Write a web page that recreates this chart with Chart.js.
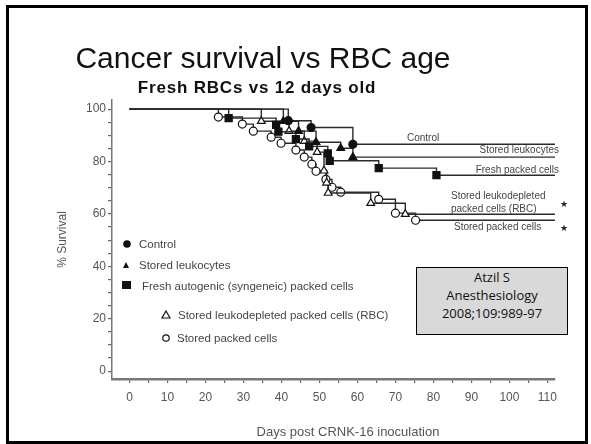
<!DOCTYPE html>
<html>
<head>
<meta charset="utf-8">
<script src="https://cdn.jsdelivr.net/npm/chart.js@4/dist/chart.umd.min.js"></script>
<style>
  body { margin: 0; background: #fff; }
  #slide { position: relative; width: 591px; height: 444px; overflow: hidden; background: #fff; }
  #frame { position: absolute; left: 6px; top: 5px; width: 576px; height: 433px; border: 3px solid #000; }
  #title { position: absolute; left: 0; width: 526px; top: 41px; text-align: center;
           font: 30px "Liberation Sans", Arial, sans-serif; color: #111; }
  #subtitle { position: absolute; left: 0; width: 514px; top: 78px; text-align: center;
              font: bold 17px "Liberation Sans", Arial, sans-serif; letter-spacing: 0.8px; color: #111; }
  #cite { position: absolute; left: 416px; top: 267px; width: 150px; height: 66px;
          background: #d9d9d9; border: 1px solid #000; text-align: center;
          font: 13px "Open Sans", sans-serif; line-height: 18px; color: #111; }
  canvas { position: absolute; left: 0; top: 0; }
</style>
</head>
<body>
<div id="slide">
  <canvas id="chart" width="591" height="444"></canvas>
  <div id="frame"></div>
  <div id="title">Cancer survival vs RBC age</div>
  <div id="subtitle">Fresh RBCs vs 12 days old</div>
  <div id="cite">Atzil S<br>Anesthesiology<br>2008;109:989-97</div>
</div>
<script>
// Kaplan-Meier curves (day, % survival)
const controlDays = [0, 41.8, 47.8, 58.8, 112];
const controlSurv = [100, 95.6, 93.0, 86.6, 86.6];

const leukoDays = [0, 40.5, 44.5, 49.1, 55.6, 58.8, 112];
const leukoSurv = [100, 95.4, 91.6, 87.4, 85.1, 81.7, 81.7];

const freshDays = [0, 26.1, 38.6, 39.2, 43.8, 47.3, 52.2, 52.7, 65.6, 80.8, 112];
const freshSurv = [100, 96.6, 94.0, 91.4, 88.6, 85.8, 83.1, 80.3, 77.5, 74.8, 74.8];

const depletedDays = [0, 34.7, 42.0, 46.0, 49.4, 51.2, 51.9, 52.3, 63.5, 72.6, 112];
const depletedSurv = [100, 95.4, 91.6, 87.8, 83.6, 76.5, 71.9, 68.0, 64.1, 59.9, 59.9];

const storedDays = [0, 23.4, 29.7, 32.6, 37.3, 39.9, 43.8, 46.0, 48.0, 49.1, 51.7, 53.3, 55.6, 65.6, 70.0, 75.3, 112];
const storedSurv = [100, 97.0, 94.3, 91.6, 89.3, 87.0, 84.4, 81.7, 79.0, 76.3, 73.2, 70.2, 68.3, 65.6, 60.3, 57.6, 57.6];

const xTicks = [0, 5, 10, 15, 20, 25, 30, 35, 40, 45, 50, 55, 60, 65, 70, 75, 80, 85, 90, 95, 100, 105, 110];
const xLabels = [0, 10, 20, 30, 40, 50, 60, 70, 80, 90, 100, 110];
const yTicks = [0, 5, 10, 15, 20, 25, 30, 35, 40, 45, 50, 55, 60, 65, 70, 75, 80, 85, 90, 95, 100];
const yLabels = [0, 20, 40, 60, 80, 100];

const toPoints = (days, surv) => days.map((d, i) => ({ x: d, y: surv[i] }));

const curve = (label, days, surv, style, fill, r) => ({
  label: label,
  data: toPoints(days, surv),
  stepped: true,
  borderColor: "#2b2b2b",
  borderWidth: 1.4,
  pointStyle: style,
  pointBackgroundColor: fill,
  pointBorderColor: "#111",
  pointBorderWidth: 1.2,
  pointRadius: (ctx) => (ctx.dataIndex === 0 || ctx.dataIndex === days.length - 1 ? 0 : r),
  pointHoverRadius: 0,
});

const labelFont = "Liberation Sans, Arial, sans-serif";

// in-plot legend, right-hand curve labels, stars and x axis title
const notes = {
  id: "notes",
  afterDraw(chart) {
    const c = chart.ctx;
    c.save();
    c.fillStyle = "#111";
    c.strokeStyle = "#111";
    c.lineWidth = 1.2;
    // legend symbols
    c.beginPath(); c.arc(127, 244, 3.8, 0, Math.PI * 2); c.fill();
    c.beginPath(); c.moveTo(126, 262); c.lineTo(129, 268); c.lineTo(123, 268); c.closePath(); c.fill();
    c.fillRect(122, 281, 9, 8);
    c.fillStyle = "#fff";
    c.beginPath(); c.moveTo(166, 311); c.lineTo(170, 318); c.lineTo(162, 318); c.closePath(); c.fill(); c.stroke();
    c.beginPath(); c.arc(166, 338, 3.2, 0, Math.PI * 2); c.fill(); c.stroke();

    c.fillStyle = "#444";
    c.font = "11.5px " + labelFont;
    c.textBaseline = "middle";
    c.textAlign = "left";
    c.fillText("Control", 139, 245);
    c.fillText("Stored leukocytes", 139, 266);
    c.fillText("Fresh autogenic (syngeneic) packed cells", 142, 287);
    c.fillText("Stored leukodepleted packed cells (RBC)", 178, 316);
    c.fillText("Stored packed cells", 177, 339);

    c.font = "10px " + labelFont;
    c.fillText("Control", 407, 138);
    c.fillText("Stored leukodepleted", 451, 196);
    c.fillText("packed cells (RBC)", 451, 209);
    c.fillText("Stored packed cells", 454, 227);
    c.textAlign = "right";
    c.fillText("Stored leukocytes", 559, 150);
    c.fillText("Fresh packed cells", 559, 170);

    c.textAlign = "center";
    c.fillStyle = "#555";
    c.font = "13px " + labelFont;
    c.fillText("Days post CRNK-16 inoculation", 348, 432);

    c.fillStyle = "#222";
    c.font = "9px DejaVu Sans, sans-serif";
    c.fillText("\u2605", 564, 205);
    c.fillText("\u2605", 564, 229);
    c.restore();
  },
};

new Chart(document.getElementById("chart"), {
  type: "line",
  data: {
    datasets: [
      curve("Control", controlDays, controlSurv, "circle", "#111", 4),
      curve("Stored leukocytes", leukoDays, leukoSurv, "triangle", "#111", 4.5),
      curve("Fresh autogenic (syngeneic) packed cells", freshDays, freshSurv, "rect", "#111", 5),
      curve("Stored leukodepleted packed cells (RBC)", depletedDays, depletedSurv, "triangle", "#fff", 4.5),
      curve("Stored packed cells", storedDays, storedSurv, "circle", "#fff", 4),
    ],
  },
  options: {
    responsive: false,
    animation: false,
    events: [],
    layout: { padding: { top: 100, right: 36, left: 0, bottom: 0 } },
    plugins: {
      legend: { display: false },
      tooltip: { enabled: false },
    },
    scales: {
      x: {
        type: "linear",
        min: -4.6,
        max: 112,
        afterFit: (s) => { s.height = 65; },
        afterBuildTicks: (s) => { s.ticks = xTicks.map((v) => ({ value: v })); },
        grid: { drawOnChartArea: false, drawTicks: true, tickLength: 4, color: "#666", lineWidth: 1.2 },
        border: { color: "#777", width: 2.5 },
        ticks: {
          autoSkip: false,
          maxRotation: 0,
          padding: 7,
          color: "#555",
          font: { family: labelFont, size: 12 },
          callback: (v) => (xLabels.includes(v) ? String(v) : ""),
        },
      },
      y: {
        min: -3,
        max: 103.5,
        afterFit: (s) => { s.width = 112; },
        afterBuildTicks: (s) => { s.ticks = yTicks.map((v) => ({ value: v })); },
        grid: { drawOnChartArea: false, drawTicks: true, tickLength: 4, color: "#666", lineWidth: 1.2 },
        border: { color: "#777", width: 1.5 },
        ticks: {
          autoSkip: false,
          padding: 2,
          color: "#555",
          font: { family: labelFont, size: 12 },
          callback: (v) => (yLabels.includes(v) ? String(v) : ""),
        },
        title: {
          display: true,
          text: "% Survival",
          color: "#555",
          font: { family: labelFont, size: 12 },
          padding: { top: 55, bottom: 0 },
        },
      },
    },
  },
  plugins: [notes],
});
</script>
</body>
</html>
